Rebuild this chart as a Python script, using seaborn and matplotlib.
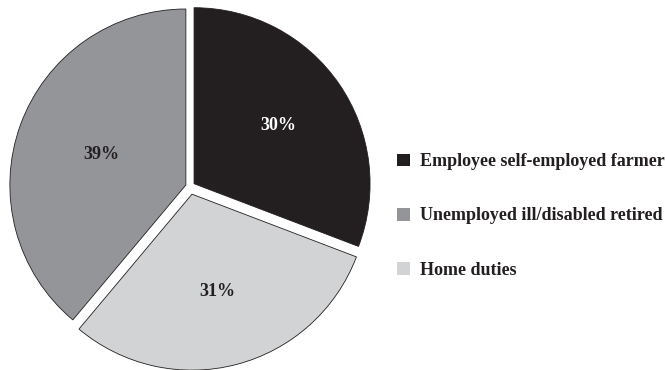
import matplotlib
matplotlib.use("Agg")
import numpy as np
import matplotlib.pyplot as plt
import seaborn as sns
from matplotlib.patches import Patch

sns.set_theme(style="white")
plt.rcParams['font.family'] = ['Liberation Serif', 'DejaVu Serif']

categories = ["Employee self-employed farmer", "Home duties", "Unemployed ill/disabled retired"]
# slice sizes as drawn in the picture, and the percentage labels printed on them
shares = [30.8, 30.3, 38.9]
pct_labels = ["30%", "31%", "39%"]
colors = ["#231f20", "#d1d3d4", "#939598"]
label_colors = ["white", "#231f20", "#231f20"]
explode = [0.028, 0.045, 0.025]
label_dist = [0.58, 0.57, 0.51]
legend_order = [0, 2, 1]

fig = plt.figure(figsize=(6.65, 3.7), dpi=100)
W, H = 665, 370
scale = 176.0
lim = 1.06
size = 2 * lim * scale
cx, cy = 190, 370 - 186.5
ax = fig.add_axes([(cx - size / 2) / W, (cy - size / 2) / H, size / W, size / H])

wedges, texts = ax.pie(
    shares, colors=colors, startangle=90, counterclock=False,
    explode=explode,
    wedgeprops=dict(edgecolor="#231f20", linewidth=0.6))
for w, lab, c, d in zip(wedges, pct_labels, label_colors, label_dist):
    ang = np.deg2rad((w.theta1 + w.theta2) / 2)
    x0, y0 = w.center
    ax.text(x0 + d * np.cos(ang), y0 + d * np.sin(ang), lab,
            ha='center', va='center', color=c, fontsize=13, fontweight='bold')
ax.set_xlim(-lim, lim)
ax.set_ylim(-lim, lim)
ax.set_aspect('equal')
ax.axis('off')

handles = [Patch(facecolor=colors[i], edgecolor='none') for i in legend_order]
labels = [categories[i] for i in legend_order]
leg = fig.legend(handles, labels, loc='center left',
                 bbox_to_anchor=(397 / W, (370 - 216) / H),
                 frameon=False, borderpad=0, borderaxespad=0,
                 handlelength=0.7, handleheight=0.7,
                 handletextpad=0.55, labelspacing=2.05,
                 prop=dict(size=13, weight='bold'))
for t in leg.get_texts():
    t.set_color("#231f20")

fig.savefig("out.png", dpi=100)
